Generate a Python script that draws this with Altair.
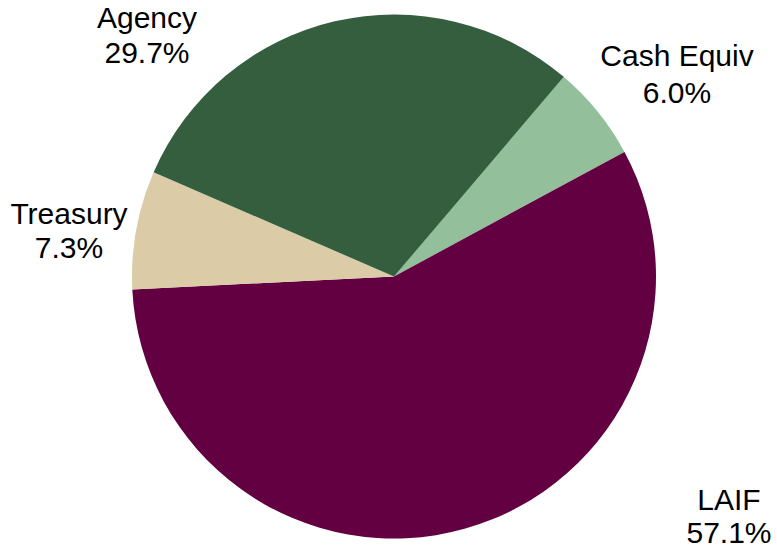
import altair as alt
import pandas as pd
import math

categories = ["Cash Equiv", "LAIF", "Treasury", "Agency"]
values = [6.0, 57.1, 7.3, 29.7]
colors = ["#93C09A", "#620042", "#DBCBA7", "#345E3E"]

df = pd.DataFrame({
    "category": categories,
    "value": values,
    "order": list(range(len(categories))),
    "pct": [f"{v:.1f}%" for v in values],
})

start = math.radians(40.0)
CX, CY, R = 394, 276.5, 262

pie = alt.Chart(df).mark_arc(outerRadius=R, stroke=None).encode(
    theta=alt.Theta("value:Q", stack=True,
                    scale=alt.Scale(domain=[0, 100], range=[start, start + 2 * math.pi])),
    order=alt.Order("order:Q"),
    color=alt.Color("category:N", scale=alt.Scale(domain=categories, range=colors), legend=None),
    x=alt.value(CX),
    y=alt.value(CY),
)

# label anchor layout (centre x, first baseline, second baseline)
label_layout = {
    "Agency": (147, 28, 62.5),
    "Cash Equiv": (677, 66, 102.5),
    "Treasury": (69, 224, 258),
    "LAIF": (729, 510, 543),
}

layers = [pie]
for cat, (lx, y1, y2) in label_layout.items():
    base = alt.Chart(df).transform_filter(alt.datum.category == cat)
    layers.append(base.mark_text(font="Liberation Sans", fontSize=30, color="black",
                                 align="center", baseline="alphabetic").encode(
        text="category:N", x=alt.value(lx), y=alt.value(y1)))
    layers.append(base.mark_text(font="Liberation Sans", fontSize=30, color="black",
                                 align="center", baseline="alphabetic").encode(
        text="pct:N", x=alt.value(lx), y=alt.value(y2)))

chart = alt.layer(*layers).properties(
    width=777, height=549, padding=0, autosize=alt.AutoSizeParams(type="none"),
    background="white",
).configure_view(stroke=None)

chart.save("out.html", embed_options={"renderer": "svg", "actions": False})
